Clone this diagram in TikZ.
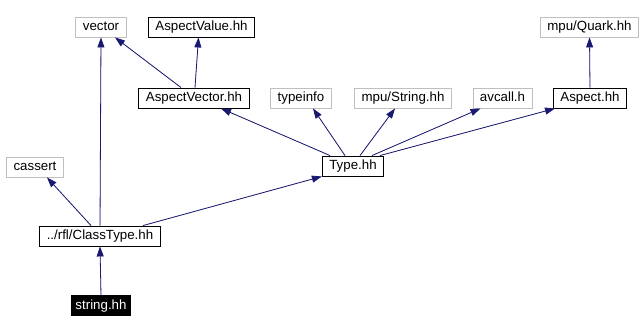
\documentclass[tikz,border=0pt]{standalone}
\usepackage{fontspec}
\setmainfont{Liberation Sans}
\usetikzlibrary{arrows.meta}
\definecolor{EdgeBlue}{HTML}{191970}
\definecolor{SysGray}{HTML}{BFBFBF}
\tikzset{
  hdr/.style={draw=black, line width=0.9bp, fill=white, minimum height=20bp, inner xsep=7bp, inner ysep=0pt, text height=9.5bp, text depth=2.5bp, font=\fontsize{13.3bp}{16bp}\selectfont},
  syshdr/.style={hdr, draw=SysGray},
  rootbox/.style={hdr, fill=black, text=white, inner xsep=4bp},
  edge/.style={-{Triangle[length=10bp,width=7bp]}, line width=0.8bp, draw=EdgeBlue, fill=EdgeBlue}
}
\begin{document}
\begin{tikzpicture}[x=1bp,y=-1bp]
\useasboundingbox (0,0) rectangle (642,332);
% top row
\node[syshdr] (vector) at (101,27) {vector};
\node[hdr] (aspectvalue) at (201.5,27) {AspectValue.hh};
\node[syshdr] (quark) at (589.5,27) {mpu/Quark.hh};
% second row
\node[hdr] (aspectvector) at (194,98) {AspectVector.hh};
\node[syshdr] (typeinfo) at (301,98) {typeinfo};
\node[syshdr] (mpustring) at (403,98) {mpu/String.hh};
\node[syshdr] (avcall) at (502.5,98) {avcall.h};
\node[hdr] (aspect) at (590,98) {Aspect.hh};
% lower rows
\node[syshdr] (cassert) at (35,167) {cassert};
\node[hdr] (typehh) at (353,166) {Type.hh};
\node[hdr] (classtype) at (100,236) {../rfl/ClassType.hh};
\node[rootbox] (stringhh) at (101,305.5) {string.hh};
% includes
\draw[edge] (stringhh.north) -- (classtype.south);
\draw[edge] (classtype.north) -- (vector.south);
\draw[edge] ([xshift=-9bp]classtype.north) -- ([xshift=12bp]cassert.south);
\draw[edge] ([xshift=43bp]classtype.north) -- (typehh.south west);
\draw[edge] ([xshift=-23bp]typehh.north) -- ([xshift=27bp]aspectvector.south);
\draw[edge] ([xshift=-8bp]typehh.north) -- ([xshift=12bp]typeinfo.south);
\draw[edge] ([xshift=7bp]typehh.north) -- ([xshift=-8bp]mpustring.south);
\draw[edge] ([xshift=19bp]typehh.north) -- ([xshift=-22bp]avcall.south);
\draw[edge] ([xshift=27bp]typehh.north) -- ([xshift=-35bp]aspect.south);
\draw[edge] ([xshift=-13bp]aspectvector.north) -- ([xshift=14bp]vector.south);
\draw[edge] ([xshift=1bp]aspectvector.north) -- ([xshift=-3bp]aspectvalue.south);
\draw[edge] (aspect.north) -- (quark.south);
\end{tikzpicture}
\end{document}
